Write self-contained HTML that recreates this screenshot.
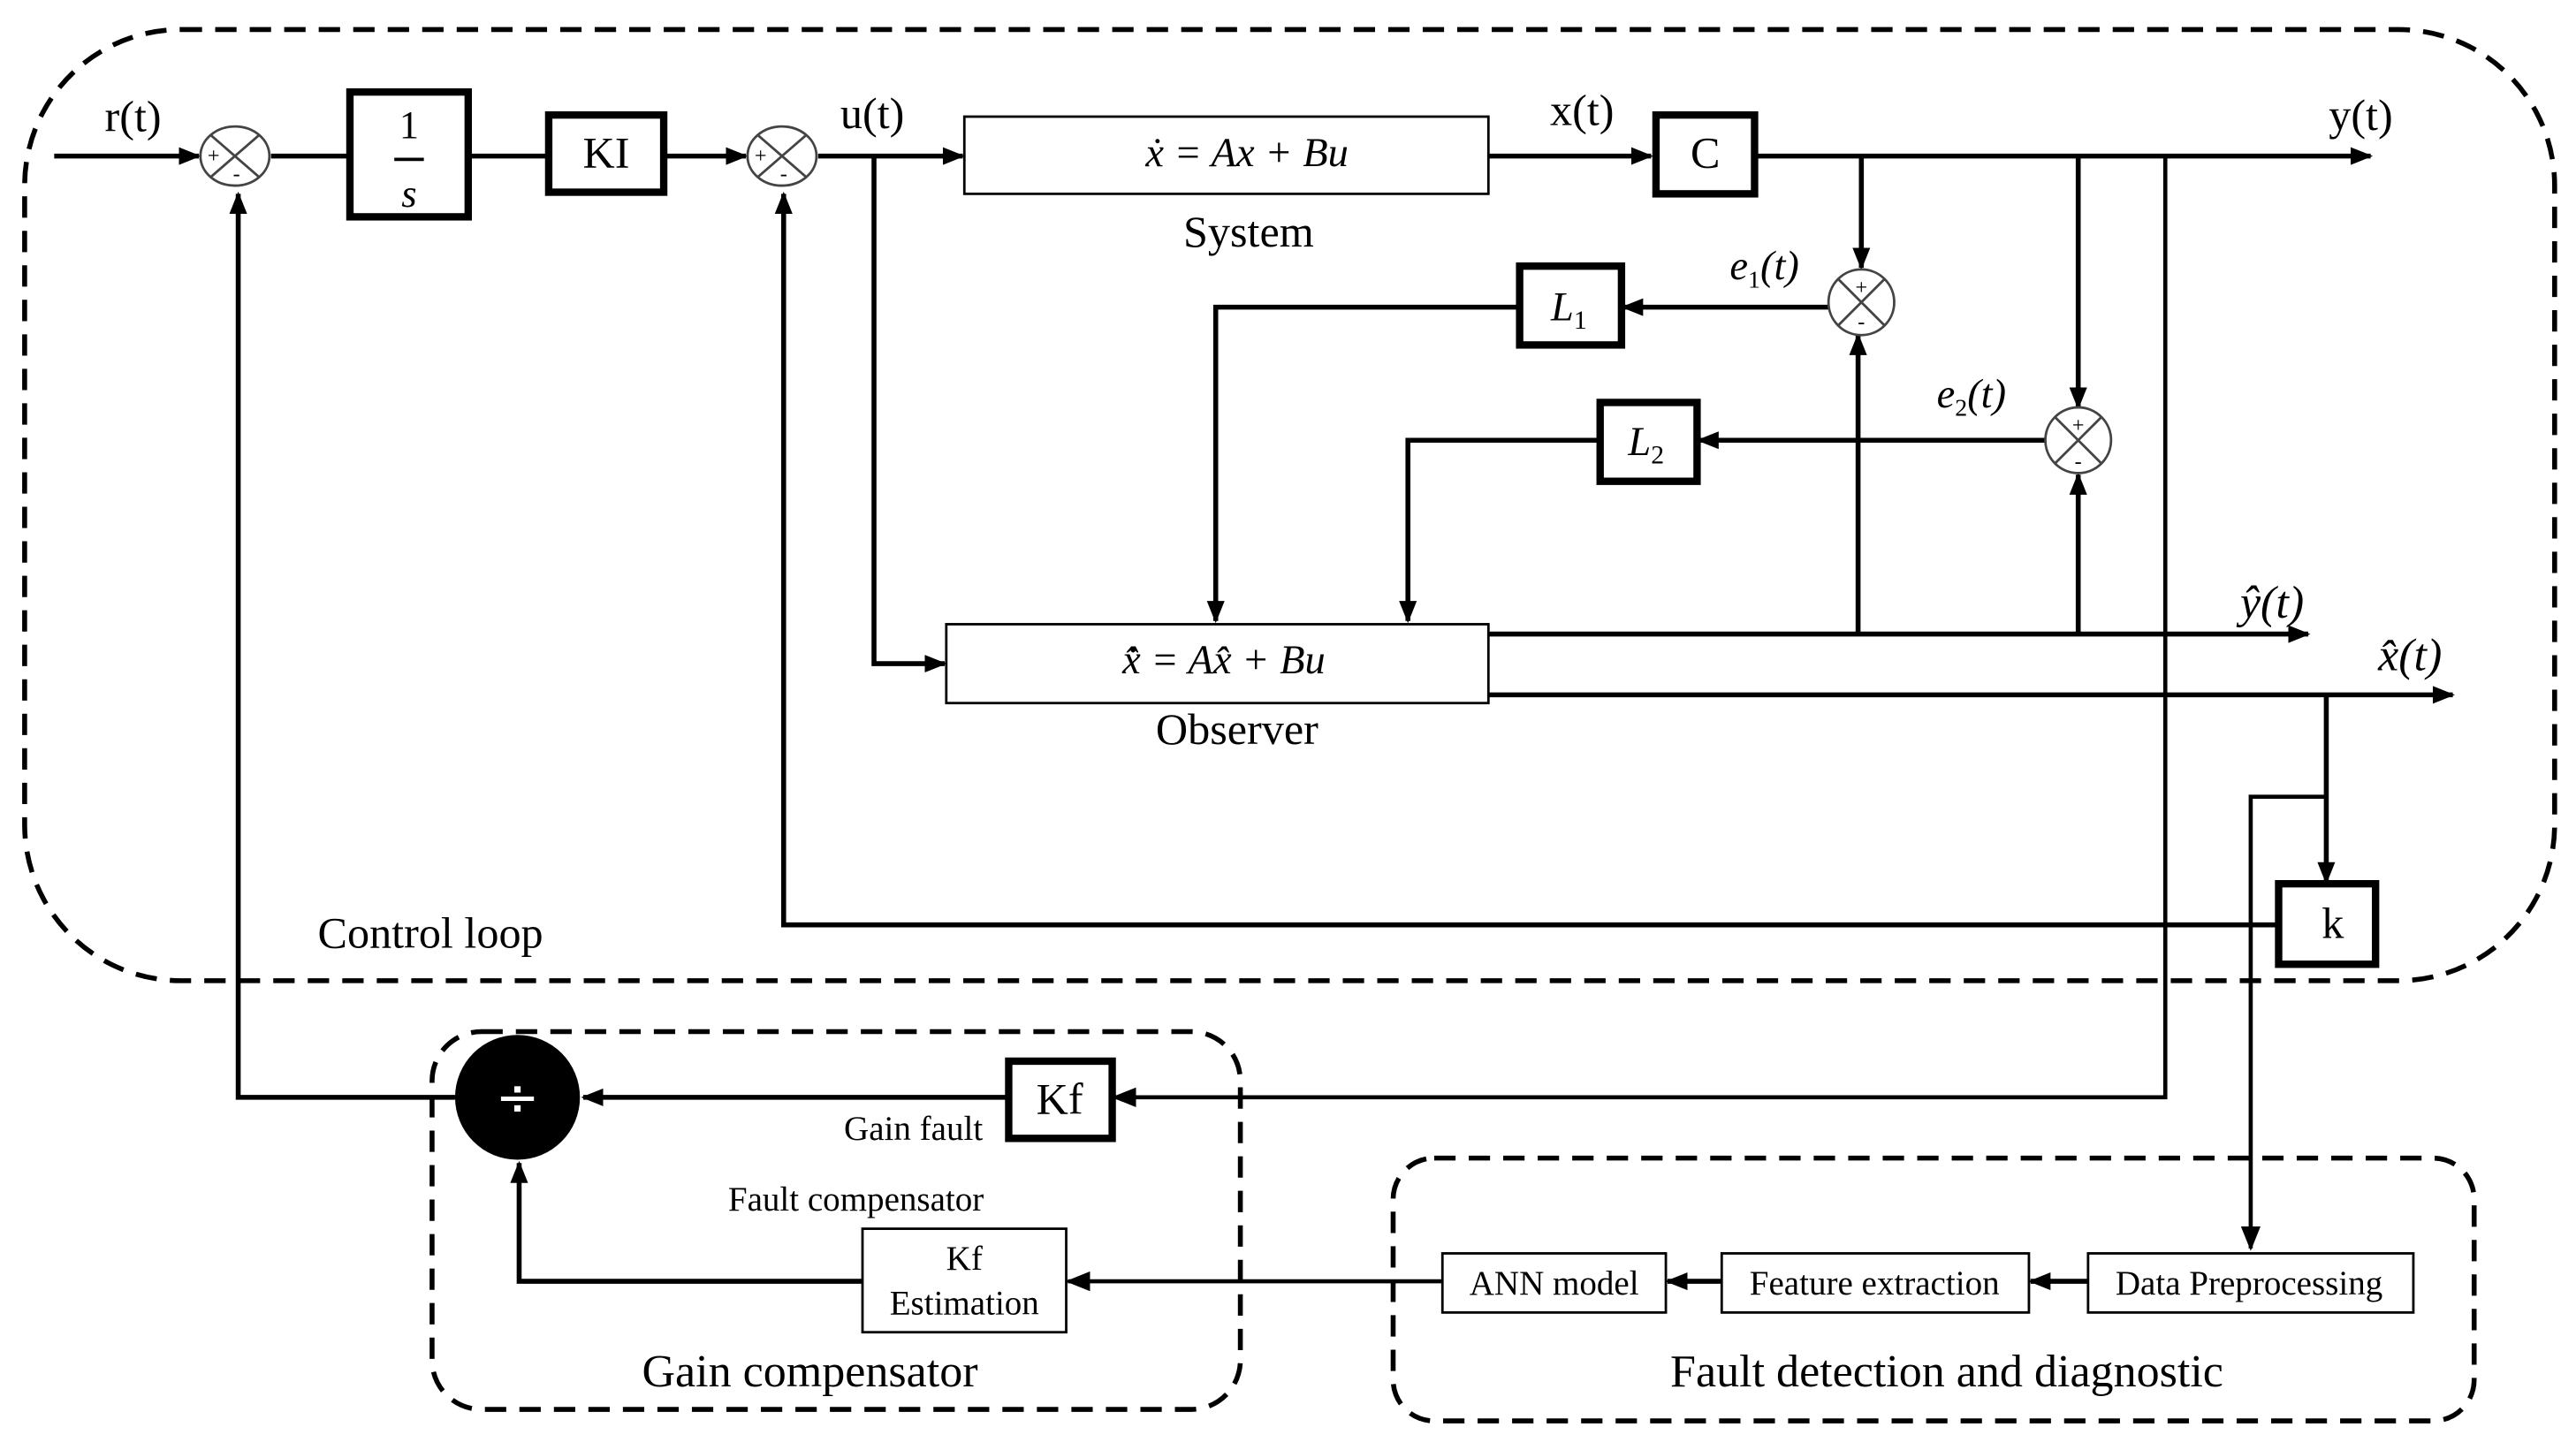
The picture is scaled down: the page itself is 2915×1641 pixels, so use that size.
<!DOCTYPE html>
<html><head><meta charset="utf-8"><style>html,body{margin:0;padding:0;background:#fff}svg{display:block}</style></head><body>
<svg width="2915" height="1641" viewBox="0 0 1568 882.7" preserveAspectRatio="none" xmlns="http://www.w3.org/2000/svg" font-family="Liberation Serif, serif">
<defs>
<marker id="a" viewBox="0 0 10 10" refX="9" refY="5" markerWidth="4.5" markerHeight="4.5" orient="auto-start-reverse" markerUnits="strokeWidth"><path d="M0,1 L10,5 L0,9 z" fill="#000"/></marker>
<marker id="b" viewBox="0 0 10 10" refX="9" refY="5" markerWidth="6" markerHeight="6" orient="auto-start-reverse" markerUnits="strokeWidth"><path d="M0,1 L10,5 L0,9 z" fill="#000"/></marker>
</defs>
<rect width="1568" height="883" fill="#fff"/>
<g fill="none" stroke="#000" stroke-width="3" stroke-dasharray="13,8">
<rect x="15" y="18" width="1540" height="579" rx="95" ry="95"/>
<rect x="263" y="628" width="492" height="230" rx="30" ry="30"/>
<rect x="848" y="705" width="658" height="160" rx="25" ry="25"/>
</g>
<g fill="none" stroke="#000" stroke-width="3">
<line x1="33" y1="95" x2="121" y2="95" marker-end="url(#a)"/>
<line x1="165" y1="95" x2="213" y2="95"/>
<line x1="285" y1="95" x2="333" y2="95"/>
<line x1="404" y1="95" x2="454" y2="95" marker-end="url(#a)"/>
<line x1="498" y1="95" x2="586" y2="95" marker-end="url(#a)"/>
<line x1="906" y1="95" x2="1005" y2="95" marker-end="url(#a)"/>
<line x1="1068" y1="95" x2="1443" y2="95" marker-end="url(#a)"/>
<line x1="1133" y1="95" x2="1133" y2="163" marker-end="url(#a)"/>
<line x1="1265" y1="95" x2="1265" y2="248" marker-end="url(#a)"/>
<line x1="1113" y1="187" x2="988" y2="187" marker-end="url(#a)"/>
<polyline points="925,187 740,187 740,378" marker-end="url(#a)"/>
<line x1="1245" y1="268" x2="1034" y2="268" marker-end="url(#a)"/>
<polyline points="973,268 857,268 857,378" marker-end="url(#a)"/>
<polyline points="532,95 532,404 575,404" marker-end="url(#a)"/>
<line x1="906" y1="386" x2="1405" y2="386" marker-end="url(#a)"/>
<line x1="1131" y1="386" x2="1131" y2="204" marker-end="url(#a)"/>
<line x1="1265" y1="386" x2="1265" y2="289" marker-end="url(#a)"/>
<line x1="906" y1="423" x2="1493" y2="423" marker-end="url(#a)"/>
<line x1="1416" y1="423" x2="1416" y2="537" marker-end="url(#a)"/>
<polyline points="1416,485 1370,485 1370,760" stroke-width="2.5" marker-end="url(#b)"/>
<polyline points="1387,563 477,563 477,118" marker-end="url(#a)"/>
<polyline points="1318,95 1318,668 678,668" stroke-width="2.5" marker-end="url(#b)"/>
<line x1="614" y1="668" x2="355" y2="668" marker-end="url(#a)"/>
<polyline points="277,668 145,668 145,118" marker-end="url(#a)"/>
<polyline points="525,780 316,780 316,708" marker-end="url(#a)"/>
<line x1="878" y1="780" x2="650" y2="780" stroke-width="2.5" marker-end="url(#b)"/>
<line x1="1048" y1="780" x2="1015" y2="780" marker-end="url(#a)"/>
<line x1="1271" y1="780" x2="1236" y2="780" marker-end="url(#a)"/>
</g>
<g fill="#fff" stroke="#000" stroke-width="4.5">
<rect x="213" y="56" width="72" height="76"/>
<rect x="334" y="70" width="70" height="47"/>
<rect x="1008" y="70" width="60" height="48"/>
<rect x="925" y="162" width="62" height="48"/>
<rect x="974" y="245" width="59" height="48"/>
<rect x="1387" y="538" width="59" height="49"/>
<rect x="614" y="646" width="63" height="47"/>
</g>
<g fill="#fff" stroke="#000" stroke-width="1.5">
<rect x="587" y="71" width="319" height="47"/>
<rect x="576" y="380" width="330" height="48"/>
<rect x="525" y="748" width="124" height="63"/>
<rect x="878" y="763" width="136" height="36"/>
<rect x="1048" y="763" width="187" height="36"/>
<rect x="1271" y="763" width="198" height="36"/>
</g>
<g fill="#fff" stroke="#444" stroke-width="1.5">
<ellipse cx="143" cy="95" rx="21" ry="18"/><path d="M128,82 L158,108 M158,82 L128,108"/>
<ellipse cx="476" cy="95" rx="21" ry="18"/><path d="M461,82 L491,108 M491,82 L461,108"/>
<ellipse cx="1133" cy="184" rx="20" ry="20"/><path d="M1119,170 L1147,198 M1147,170 L1119,198"/>
<ellipse cx="1265" cy="268" rx="20" ry="20"/><path d="M1251,254 L1279,282 M1279,254 L1251,282"/>
</g>
<g font-size="13" fill="#000" text-anchor="middle">
<text x="130" y="99">+</text><text x="144" y="110">-</text>
<text x="463" y="99">+</text><text x="477" y="110">-</text>
<text x="1133" y="179">+</text><text x="1133" y="200">-</text>
<text x="1265" y="263">+</text><text x="1265" y="285">-</text>
</g>
<circle cx="315" cy="668" r="38" fill="#000"/>
<text x="315" y="679" font-size="32" fill="#fff" text-anchor="middle" font-family="DejaVu Sans, sans-serif">÷</text>
<g fill="#000" font-size="27" text-anchor="middle">
<text x="81" y="80">r(t)</text>
<text x="531" y="78">u(t)</text>
<text x="963" y="76">x(t)</text>
<text x="1437" y="79">y(t)</text>
<text x="760" y="150">System</text>
<text x="753" y="453">Observer</text>
<text x="369" y="102">KI</text>
<text x="1038" y="102">C</text>
<text x="1420" y="571">k</text>
<text x="645" y="678">Kf</text>
<text x="249" y="84" font-size="24">1</text>
<line x1="240" y1="97" x2="258" y2="97" stroke="#000" stroke-width="2"/>
<text x="249" y="126" font-size="24" font-style="italic">s</text>
<text x="759" y="101" font-style="italic" font-size="25">ẋ = Ax + Bu</text>
<text x="745" y="410" font-style="italic" font-size="25">x̂̇ = Ax̂ + Bu</text>
<text x="955" y="195" font-style="italic" font-size="25">L<tspan font-size="16" dy="5" font-style="normal">1</tspan></text>
<text x="1002" y="277" font-style="italic" font-size="25">L<tspan font-size="16" dy="5" font-style="normal">2</tspan></text>
<text x="1074" y="170" font-style="italic" font-size="25">e<tspan font-size="15" dy="5" font-style="normal">1</tspan><tspan dy="-5">(t)</tspan></text>
<text x="1200" y="248" font-style="italic" font-size="25">e<tspan font-size="15" dy="5" font-style="normal">2</tspan><tspan dy="-5">(t)</tspan></text>
<text x="1383" y="376" font-style="italic" font-size="28">ŷ(t)</text>
<text x="1467" y="408" font-style="italic" font-size="28">x̂(t)</text>
<text x="262" y="577">Control loop</text>
<text x="493" y="844" font-size="28">Gain compensator</text>
<text x="1185" y="844" font-size="28">Fault detection and diagnostic</text>
</g>
<g fill="#000" font-size="21" text-anchor="middle">
<text x="556" y="694">Gain fault</text>
<text x="521" y="737">Fault compensator</text>
<text x="587" y="773">Kf</text>
<text x="587" y="800">Estimation</text>
<text x="946" y="788">ANN model</text>
<text x="1141" y="788">Feature extraction</text>
<text x="1369" y="788">Data Preprocessing</text>
</g>
</svg>
</body></html>
